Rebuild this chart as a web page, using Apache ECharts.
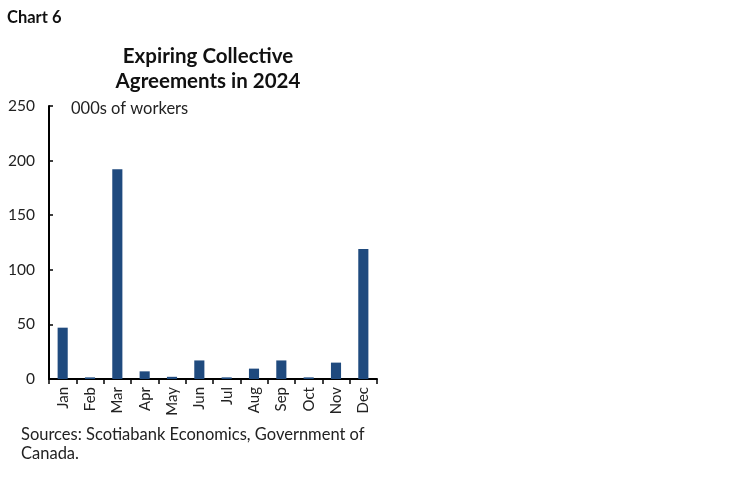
<!DOCTYPE html>
<html><head><meta charset="utf-8">
<script src="https://cdn.jsdelivr.net/npm/echarts@6/dist/echarts.min.js"></script>
<style>html,body{margin:0;padding:0;background:#fff}#c{width:750px;height:482px}</style>
</head><body><div id="c"></div>
<script>
var categories = ['Jan','Feb','Mar','Apr','May','Jun','Jul','Aug','Sep','Oct','Nov','Dec'];
var workers = [47, 1.5, 192, 7, 2, 17, 1.5, 9.5, 17, 1.5, 15, 119];
var yTicks = [0, 50, 100, 150, 200, 250];

var chart = echarts.init(document.getElementById('c'));
var F = 'Lato, "Open Sans", sans-serif';
chart.setOption({
  animation: false,
  textStyle: {fontFamily: F},
  title: [
    {text: 'Chart 6', left: 2, top: 4, textStyle: {fontFamily: F, fontSize: 16.5, fontWeight: 'bold', color: '#111'}},
    {text: 'Expiring Collective\nAgreements in 2024', left: 203, textAlign: 'center', top: 39,
     textStyle: {fontFamily: F, fontSize: 20.5, fontWeight: 'bold', color: '#111', lineHeight: 25}},
    {text: '000s of workers', left: 66, top: 95, textStyle: {fontFamily: F, fontSize: 16.5, fontWeight: 'normal', color: '#222'}},
    {text: 'Sources: Scotiabank Economics, Government of\nCanada.', left: 16, top: 420,
     textStyle: {fontFamily: F, fontSize: 16.5, fontWeight: 'normal', color: '#222', lineHeight: 19}}
  ],
  grid: {left: 49, right: 373, top: 106, bottom: 103, containLabel: false},
  xAxis: {
    type: 'category', data: categories,
    axisLine: {lineStyle: {color: '#000', width: 2}},
    axisTick: {show: true, inside: false, length: 5, lineStyle: {color: '#000', width: 1.5}},
    axisLabel: {rotate: 90, fontSize: 15, color: '#222', margin: 8, fontFamily: F}
  },
  yAxis: {
    type: 'value', min: 0, max: 250, interval: 50,
    axisLine: {show: true, lineStyle: {color: '#000', width: 2}},
    axisTick: {show: true, inside: true, length: 4, lineStyle: {color: '#000', width: 1.5}},
    splitLine: {show: false},
    axisLabel: {fontSize: 15.5, color: '#222', margin: 14, fontFamily: F,
      formatter: function (v) { return yTicks.indexOf(v) >= 0 ? String(v) : ''; }}
  },
  series: [{
    type: 'bar', data: workers, barWidth: '37%',
    itemStyle: {color: '#1F4A7E'}
  }]
});
</script></body></html>
